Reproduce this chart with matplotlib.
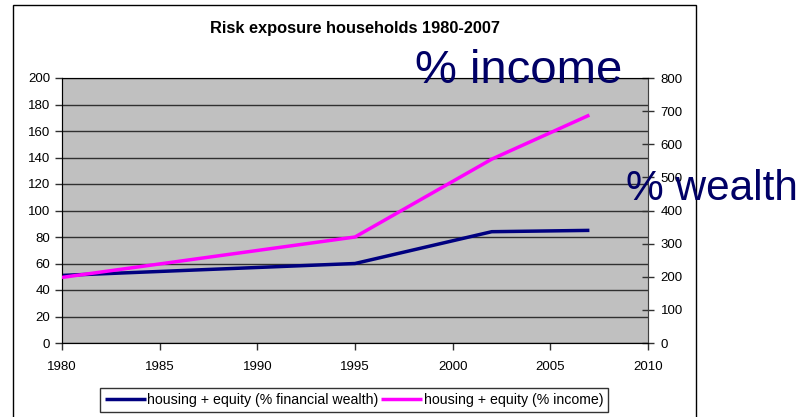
import matplotlib
matplotlib.use('Agg')
import matplotlib.pyplot as plt
from matplotlib.patches import Rectangle

plt.rcParams['font.family'] = ['Liberation Sans', 'DejaVu Sans']

####################
# Data

years_wealth = [1980, 1995, 2002, 2007]
wealth_pct   = [51, 60, 84, 85]          # housing + equity, % financial wealth (left axis)

years_income = [1980, 1995, 2002, 2007]
income_pct   = [198, 320, 555, 688]      # housing + equity, % income (right axis)

x_ticks      = [1980, 1985, 1990, 1995, 2000, 2005, 2010]
left_ticks   = list(range(0, 201, 20))
right_ticks  = list(range(0, 801, 100))

title        = 'Risk exposure households 1980-2007'
label_wealth = 'housing + equity (% financial wealth)'
label_income = 'housing + equity (% income)'

####################
# Figure

W, H = 803, 417
fig = plt.figure(figsize=(W / 100, H / 100), dpi=100)
fig.patch.set_facecolor('white')

# outer chart frame
fig.patches.append(Rectangle((13 / W, -0.05), (696 - 13) / W, 1.05 - 5 / H,
                             transform=fig.transFigure, fill=False,
                             edgecolor='black', linewidth=1.0))

ax = fig.add_axes([62 / W, (H - 343) / H, 586 / W, 265 / H])
ax.set_facecolor('#C0C0C0')
ax.set_xlim(1980, 2010)
ax.set_ylim(0, 200)
ax.set_xticks(x_ticks)
ax.set_yticks(left_ticks)
ax.yaxis.grid(True, color='#303030', linewidth=1.0)
ax.set_axisbelow(True)
for s in ['top', 'right']:
    ax.spines[s].set_color('#808080')
for s in ['left', 'bottom']:
    ax.spines[s].set_color('#404040')
ax.tick_params(axis='both', labelsize=9.5, length=5, width=1, color='#303030')
ax.tick_params(axis='x', pad=8)

ax2 = ax.twinx()
ax2.set_ylim(0, 800)
ax2.set_yticks(right_ticks)
ax2.tick_params(axis='y', labelsize=9.5, direction='inout', length=8, width=1,
                color='#303030', pad=5)
ax2.spines['right'].set_color('#404040')

l1, = ax.plot(years_wealth, wealth_pct, color='#000080', linewidth=2.5,
              solid_capstyle='butt', label=label_wealth, zorder=3)
l2, = ax2.plot(years_income, income_pct, color='#FF00FF', linewidth=2.5,
               solid_capstyle='butt', label=label_income, zorder=3)

fig.text(355 / W, 1 - 29 / H, title, ha='center', va='center',
         fontsize=11.8, fontweight='bold')

leg = fig.legend([l1, l2], [label_wealth, label_income], ncol=2,
                 loc='center', bbox_to_anchor=(354 / W, 1 - 400 / H),
                 fontsize=10.2, frameon=True, fancybox=False, handlelength=2.9,
                 handletextpad=0.1, columnspacing=0.2, borderpad=0.35,
                 borderaxespad=0)
leg.get_frame().set_edgecolor('black')
leg.get_frame().set_linewidth(1.0)

# large annotations
fig.text(415 / W, 1 - 83 / H, '% income', ha='left', va='baseline',
         fontsize=34, color='#000066')
fig.text(626 / W, 1 - 200 / H, '% wealth', ha='left', va='baseline',
         fontsize=30.5, color='#000066')

fig.savefig('out.png', dpi=100)
